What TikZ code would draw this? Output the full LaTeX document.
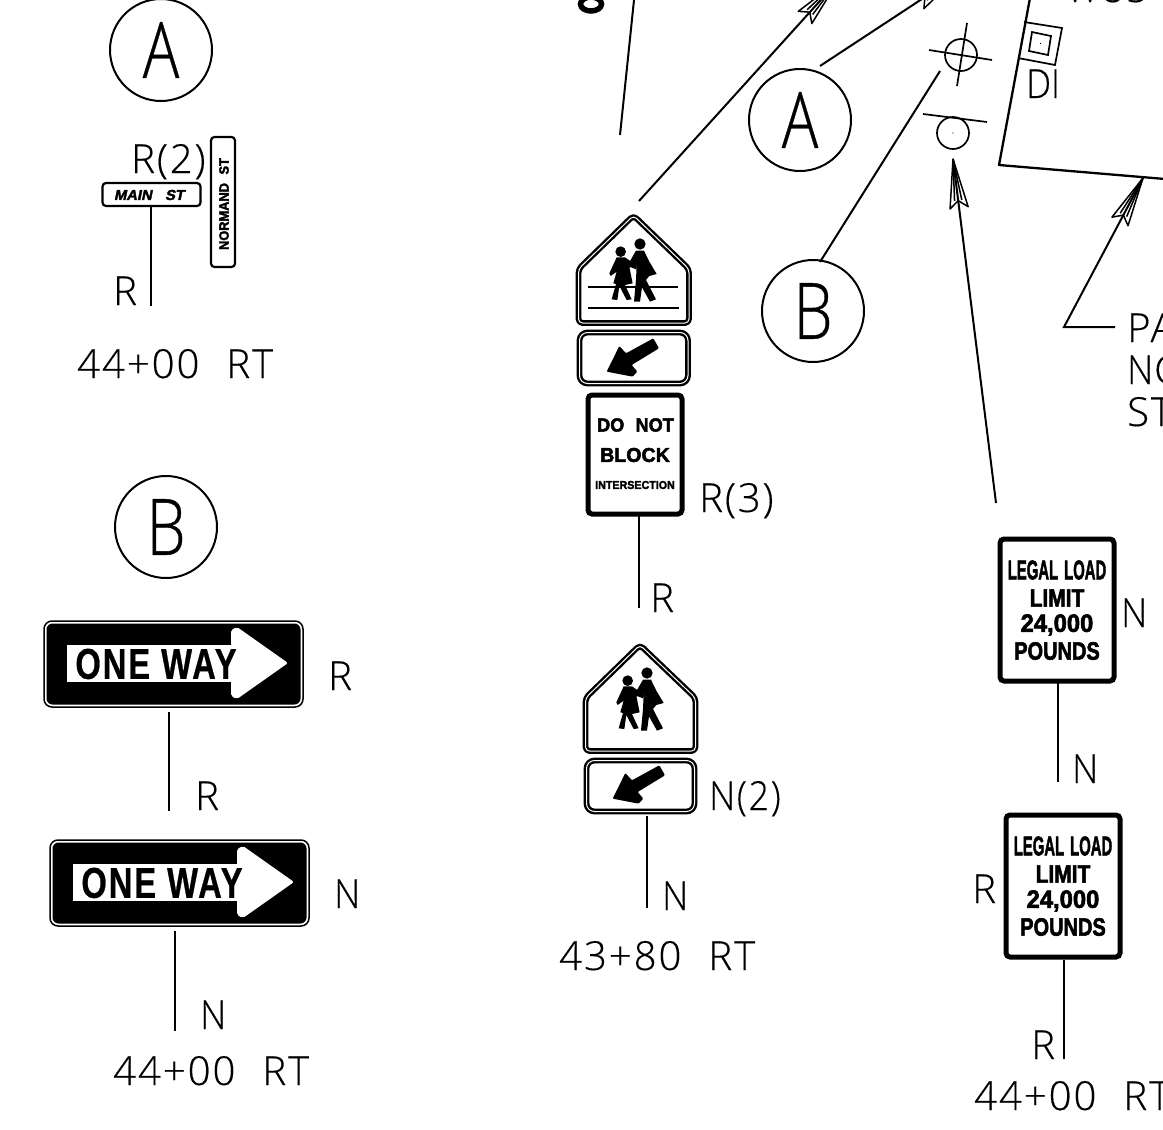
\documentclass[tikz,border=0pt]{standalone}
\usepackage{fontspec}
\usetikzlibrary{calc}
\setmainfont{Liberation Sans}
\newfontfamily\thinfont[LetterSpace=5,FakeBold=0.35]{Open Sans Light}
\newfontfamily\bigthin[FakeBold=0.5]{Open Sans Light}
\newfontfamily\signfont[FakeBold=2.4]{Liberation Sans Bold}
\newfontfamily\signital[FakeBold=2.4,FakeSlant=0.2]{Liberation Sans Bold}
\newfontfamily\owfont[LetterSpace=6,FakeBold=0.8]{Liberation Sans Bold}
\newcommand{\sg}[3]{\scalebox{#1}[1]{\fontsize{#2}{#2}\selectfont\signfont #3}}
\newcommand{\nar}[1]{\scalebox{.9}[1]{#1}}
\newcommand{\arrowhd}[2]{%
  \draw[headln] (#1) -- ($(#1)!50pt!10.5:(#2)$) -- ($(#1)!42pt!(#2)$) -- ($(#1)!50pt!-10.5:(#2)$) -- cycle;
  \draw[headln] (#1) -- ($(#1)!42pt!5:(#2)$) (#1) -- ($(#1)!42pt!-5:(#2)$);
}
\newcommand{\kidsfig}{%
  \fill (182,155) circle (16);
  \fill (240,132) circle (17);
  \fill (170,172) -- (195,172) -- (232,198) -- (228,208) -- (208,200) -- (218,250) -- (195,255) -- (215,298) -- (200,300) -- (178,258) -- (172,300) -- (155,298) -- (168,252) -- (160,250) -- (170,215) -- (152,228) -- (148,220) -- cycle;
  \fill (228,152) -- (252,152) -- (268,185) -- (290,222) -- (268,228) -- (258,240) -- (288,298) -- (270,305) -- (246,262) -- (240,305) -- (222,305) -- (228,240) -- (230,195) -- (208,203) -- (205,192) -- cycle;
}
\newcommand{\platearrow}{%
  \fill[rounded corners=1pt] (140,515) -- (178,438) -- (198,460) -- (280,415) -- (297,445) -- (215,495) -- (232,515) -- (218,530) -- cycle;
}
\newcommand{\oneway}{%
  \fill[white] (67,645) rectangle (232,682);
  \fill[white,rounded corners=2pt] (231,646) -- (231,630) -- (237,627) -- (288,663) -- (237,699) -- (231,696) -- (231,681) -- cycle;
}
\tikzset{
  lab/.style={anchor=base west,inner sep=0pt,font=\fontsize{40}{40}\selectfont\thinfont},
  biglet/.style={inner sep=0pt,font=\fontsize{78}{78}\selectfont\bigthin},
  ln/.style={line width=2pt},
  headln/.style={line width=1.5pt,line join=round},
  ring/.style={circle,draw,line width=2pt,minimum size=102pt,inner sep=0pt},
  thick sign/.style={draw,rectangle,rounded corners=4pt,line width=5pt,inner sep=0pt},
  street/.style={draw,rectangle,rounded corners=3.5pt,line width=2.2pt,inner sep=0pt},
  dblline/.style={double,double distance=1pt,line width=2.4pt,line join=round,rounded corners=4pt},
  ow/.style={draw,rectangle,rounded corners=8pt,line width=1.5pt,inner sep=0pt,minimum width=259pt,minimum height=86pt},
  owin/.style={fill=black,rectangle,rounded corners=6pt,inner sep=0pt,minimum width=254pt,minimum height=81pt},
  signtxt/.style={inner sep=0pt,anchor=center},
  owtxt/.style={signtxt,font=\fontsize{43}{43}\selectfont\owfont},
}
\begin{document}
\begin{tikzpicture}[x=1pt,y=-1pt]
\useasboundingbox (0,0) rectangle (1163,1130);
\clip (0,0) rectangle (1163,1130);
\fill[white] (0,0) rectangle (1163,1130);

% ---------- left column: A
\node[ring] (ringA) at (161,50) {};
\node[biglet] (letA) at (161,50) {\scalebox{.78}[1]{A}};
\node[lab] (lr2) at (131,173) {R(2)};
\node[street,minimum width=98pt,minimum height=23pt] (main) at (151.5,194.5) {};
\node[signtxt] (maintxt) at (149,195) {\scalebox{1.02}[1]{\fontsize{14.5}{14.5}\selectfont\signital MAIN\hspace{13pt}ST}};
\node[street,minimum width=24pt,minimum height=130pt] (norm) at (223,202) {};
\node[signtxt,rotate=90] (normtxt) at (224,204) {\sg{.95}{13.5}{NORMAND\hspace{9pt}ST}};
\coordinate (p1t) at (151,206);
\coordinate (p1b) at (151,306);
\draw[ln] (p1t) -- (p1b);
\node[lab] (lr) at (113,305) {R};
\node[lab] (st1) at (77,378) {44+00\hspace{27pt}RT};

% ---------- left column: B
\node[ring] (ringB) at (166,527) {};
\node[biglet] (letB) at (166,527) {\scalebox{.8}[1]{B}};
\node[ow] (ow1) at (173.5,664) {};
\node[owin] (ow1b) at (173.5,664) {};
\oneway
\node[owtxt] (ow1t) at (156,664) {\scalebox{.76}[1]{ONE WAY}};
\node[lab] (lr3) at (328,690) {R};
\coordinate (p2t) at (169,712);
\coordinate (p2b) at (169,811);
\draw[ln] (p2t) -- (p2b);
\node[lab] (lr4) at (195,810) {R};
\node[ow] (ow2) at (179.5,883) {};
\node[owin] (ow2b) at (179.5,883) {};
\begin{scope}[shift={(6,219)}]\oneway\end{scope}
\node[owtxt] (ow2t) at (162,883) {\scalebox{.76}[1]{ONE WAY}};
\node[lab] (ln1) at (334,908) {\nar{N}};
\coordinate (p3t) at (175,931);
\coordinate (p3b) at (175,1031);
\draw[ln] (p3t) -- (p3b);
\node[lab] (ln2) at (200,1029) {\nar{N}};
\node[lab] (st2) at (113,1085) {44+00\hspace{27pt}RT};

% ---------- middle column: upper assembly
\draw[dblline] (633.5,215.5) -- (578.5,269) -- (578.5,323) -- (689,323) -- (689,269) -- cycle;
\draw[line width=1.8pt] (588,287) -- (678,287);
\begin{scope}[shift={(560,200)},scale=.3333]\kidsfig\platearrow\end{scope}
\draw[line width=2.8pt] (588,308) -- (679,308);
\draw[dblline,rounded corners=8pt] (579.5,332.5) rectangle (688,383.5);
\node[thick sign,minimum width=94pt,minimum height=119pt] (dnb) at (635,454.5) {};
\node[signtxt] (dnb1) at (635.5,425) {\sg{.95}{19}{DO\hspace{12pt}NOT}};
\node[signtxt] (dnb2) at (635,455) {\sg{.98}{20}{BLOCK}};
\node[signtxt] (dnb3) at (635,485) {\sg{.93}{11.5}{INTERSECTION}};
\node[lab] (lr5) at (699,512) {R(3)};
\coordinate (p4b) at (639,608);
\draw[ln] (639,516) -- (p4b);
\node[lab] (lr6) at (650,612) {R};

% ---------- middle column: lower assembly
\draw[dblline] (640,645) -- (585.5,698) -- (585.5,751) -- (695.5,751) -- (695.5,698) -- cycle;
\begin{scope}[shift={(567,629)},scale=.3333]\kidsfig\end{scope}
\draw[dblline,rounded corners=8pt] (586.5,760.5) rectangle (694.5,811.5);
\begin{scope}[shift={(566,627)},scale=.3333]\platearrow\end{scope}
\node[lab] (ln3) at (709,810) {\nar{N(2)}};
\coordinate (p5t) at (647,816);
\coordinate (p5b) at (647,908);
\draw[ln] (p5t) -- (p5b);
\node[lab] (ln4) at (662,910) {\nar{N}};
\node[lab] (st3) at (559,970) {43+80\hspace{27pt}RT};

% ---------- right column
\node[thick sign,minimum width=114pt,minimum height=142pt] (ll1) at (1057,610) {};
\node[signtxt] (ll1a) at (1057,570) {\sg{.55}{27}{LEGAL\hspace{11pt}LOAD}};
\node[signtxt] (ll1b) at (1057,598) {\sg{.84}{25}{LIMIT}};
\node[signtxt] (ll1c) at (1057,625) {\sg{.95}{25}{24,000}};
\node[signtxt] (ll1d) at (1057,651) {\sg{.8}{25}{POUNDS}};
\node[lab] (ln5) at (1121,627) {\nar{N}};
\coordinate (p6t) at (1058,683);
\coordinate (p6b) at (1058,782);
\draw[ln] (p6t) -- (p6b);
\node[lab] (ln6) at (1072,783) {\nar{N}};
\node[thick sign,minimum width=114pt,minimum height=142pt] (ll2) at (1063,886) {};
\node[signtxt] (ll2a) at (1063,846) {\sg{.55}{27}{LEGAL\hspace{11pt}LOAD}};
\node[signtxt] (ll2b) at (1063,874) {\sg{.84}{25}{LIMIT}};
\node[signtxt] (ll2c) at (1063,901) {\sg{.95}{25}{24,000}};
\node[signtxt] (ll2d) at (1063,927) {\sg{.8}{25}{POUNDS}};
\node[lab] (lr7) at (972,903) {R};
\coordinate (p7t) at (1064,960);
\coordinate (p7b) at (1064,1059);
\draw[ln] (p7t) -- (p7b);
\node[lab] (lr8) at (1031,1059) {R};
\node[lab] (st4) at (974,1110) {44+00\hspace{27pt}RT};

% ---------- plan view, top
\draw[line width=5.5pt] (591,4) ellipse (10.5 and 7);
\coordinate (l0a) at (634,0);
\coordinate (l0b) at (620,135);
\draw[ln] (l0a) -- (l0b);
\coordinate (a1tail) at (639,201);
\coordinate (a1tip) at (838,-19);
\draw[ln] (a1tail) -- (a1tip);
\arrowhd{a1tip}{a1tail}
\coordinate (a2tail) at (820,66);
\coordinate (a2tip) at (960,-26);
\draw[ln] (a2tail) -- (a2tip);
\arrowhd{a2tip}{a2tail}
\node[ring] (ringA2) at (800,120) {};
\node[biglet] (letA2) at (800,120) {\scalebox{.78}[1]{A}};
\node[ring] (ringB2) at (813,311) {};
\node[biglet] (letB2) at (813,311) {\scalebox{.8}[1]{B}};
\coordinate (b2end) at (820,262);
\coordinate (b2top) at (940,71);
\draw[ln] (b2end) -- (b2top);
% pole symbols
\node[circle,draw,line width=1.7pt,minimum size=32pt,inner sep=0pt] (pole1) at (961,55) {};
\draw[line width=1.7pt] (929,50) -- (992,60) (967,23) -- (957,86);
\node[circle,draw,line width=1.7pt,minimum size=32pt,inner sep=0pt] (pole2) at (953,133) {};
\draw[line width=1.7pt] (923,114) -- (987,122);
\fill (953,133) circle (.6);
% arrow to second pole
\coordinate (a3tip) at (953,159);
\coordinate (a3tail) at (996,503);
\draw[ln] (a3tip) -- (a3tail);
\arrowhd{a3tip}{a3tail}
% building
\draw[line width=2.3pt,line join=round] (1030,-2) -- (999,165) -- (1165,179);
% DI
\draw[line width=1.7pt] (1024,22) -- (1062,28) -- (1055,65) -- (1018,58);
\draw[line width=1.7pt] (1032,32) -- (1051,36) -- (1048,55) -- (1029,51) -- cycle;
\fill (1040.5,43.5) circle (.6);
\node[lab] (di) at (1026,98) {\scalebox{.88}[1]{\bigthin DI}};
\node[lab] (wos) at (1066,2) {\scalebox{.92}[1]{\bigthin WOS}};
% note leader
\coordinate (a4tip) at (1143,178);
\coordinate (a4knee) at (1064,327);
\coordinate (a4end) at (1115,327);
\draw[ln,line join=miter] (a4tip) -- (a4knee) -- (a4end);
\arrowhd{a4tip}{a4knee}
\node[lab] (pa) at (1127,342) {PA};
\node[lab] (nc) at (1127,384) {\nar{N}\hspace{1pt}C};
\node[lab] (stx) at (1127,426) {ST};
\end{tikzpicture}
\end{document}
